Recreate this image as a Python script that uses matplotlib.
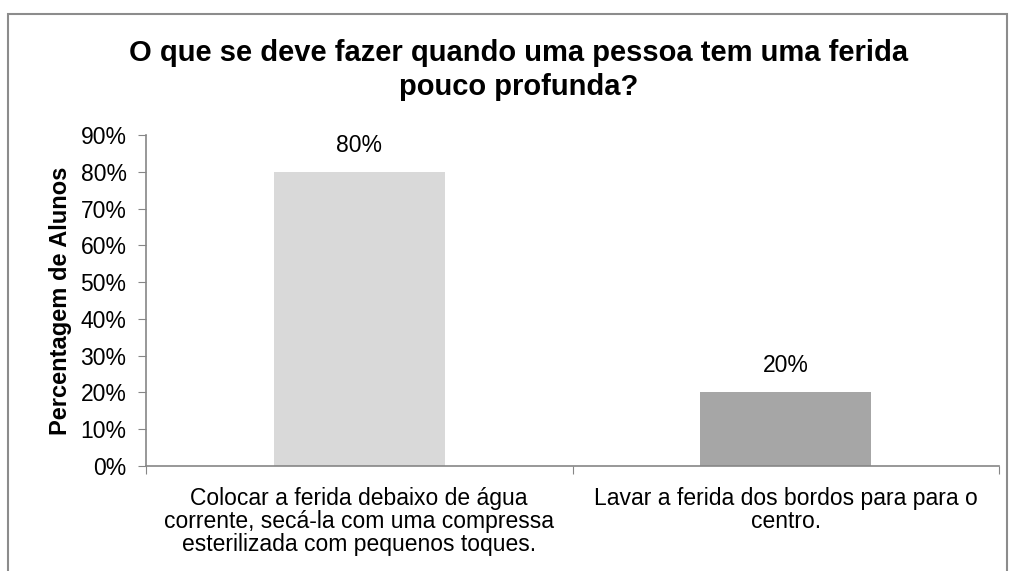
import matplotlib
matplotlib.use("Agg")
import matplotlib.pyplot as plt
from matplotlib.patches import Rectangle
from matplotlib.ticker import FuncFormatter, MultipleLocator

plt.rcParams['font.family'] = ['Liberation Sans', 'DejaVu Sans']

title = "O que se deve fazer quando uma pessoa tem uma ferida\npouco profunda?"
ylabel = "Percentagem de Alunos"
categories = ["Colocar a ferida debaixo de água\ncorrente, secá-la com uma compressa\nesterilizada com pequenos toques.",
              "Lavar a ferida dos bordos para para o\ncentro."]
values = [0.80, 0.20]
colors = ["#d9d9d9", "#a6a6a6"]
value_labels = ["80%", "20%"]

FS = 16.5

fig = plt.figure(figsize=(10.14, 5.71), dpi=100)
fig.patches.append(Rectangle((8/1014, -0.05), (1007-8)/1014, 1.05 - 14/571,
                             transform=fig.transFigure, fill=False,
                             edgecolor="#8c8c8c", linewidth=1.5))
ax = fig.add_axes([146/1014, 1-466/571, (999-146)/1014, 331/571])

x = list(range(len(categories)))
bars = ax.bar(x, values, width=0.40, color=colors)
for xi, v, lab in zip(x, values, value_labels):
    ax.annotate(lab, (xi, v), xytext=(0, 11), textcoords='offset points',
                ha='center', va='bottom', fontsize=FS)

ax.set_xlim(-0.5, 1.5)
ax.set_ylim(0, 0.9)
ax.yaxis.set_major_locator(MultipleLocator(0.1))
ax.yaxis.set_major_formatter(FuncFormatter(lambda v, p: f"{v*100:.0f}%"))
ax.set_xticks([-0.5, 0.5, 1.5])
ax.set_xticklabels([])
ax.set_xticks(x, minor=True)
ax.set_xticklabels(categories, minor=True, fontsize=FS, linespacing=1.0)
ax.tick_params(axis='x', which='minor', length=0, pad=15)
ax.tick_params(axis='x', which='major', length=6, color="#868686")
ax.tick_params(axis='y', length=6, color="#868686", labelsize=FS, pad=8)
for s in ['top', 'right']:
    ax.spines[s].set_visible(False)
for s in ['left', 'bottom']:
    ax.spines[s].set_color("#868686")
    ax.spines[s].set_linewidth(1.2)
ax.set_ylabel(ylabel, fontsize=17, fontweight='bold', labelpad=6)

fig.text(519/1014, 1-70/571, title, ha='center', va='center', fontsize=21,
         fontweight='bold', linespacing=1.3)

fig.savefig("out.png", dpi=100)
